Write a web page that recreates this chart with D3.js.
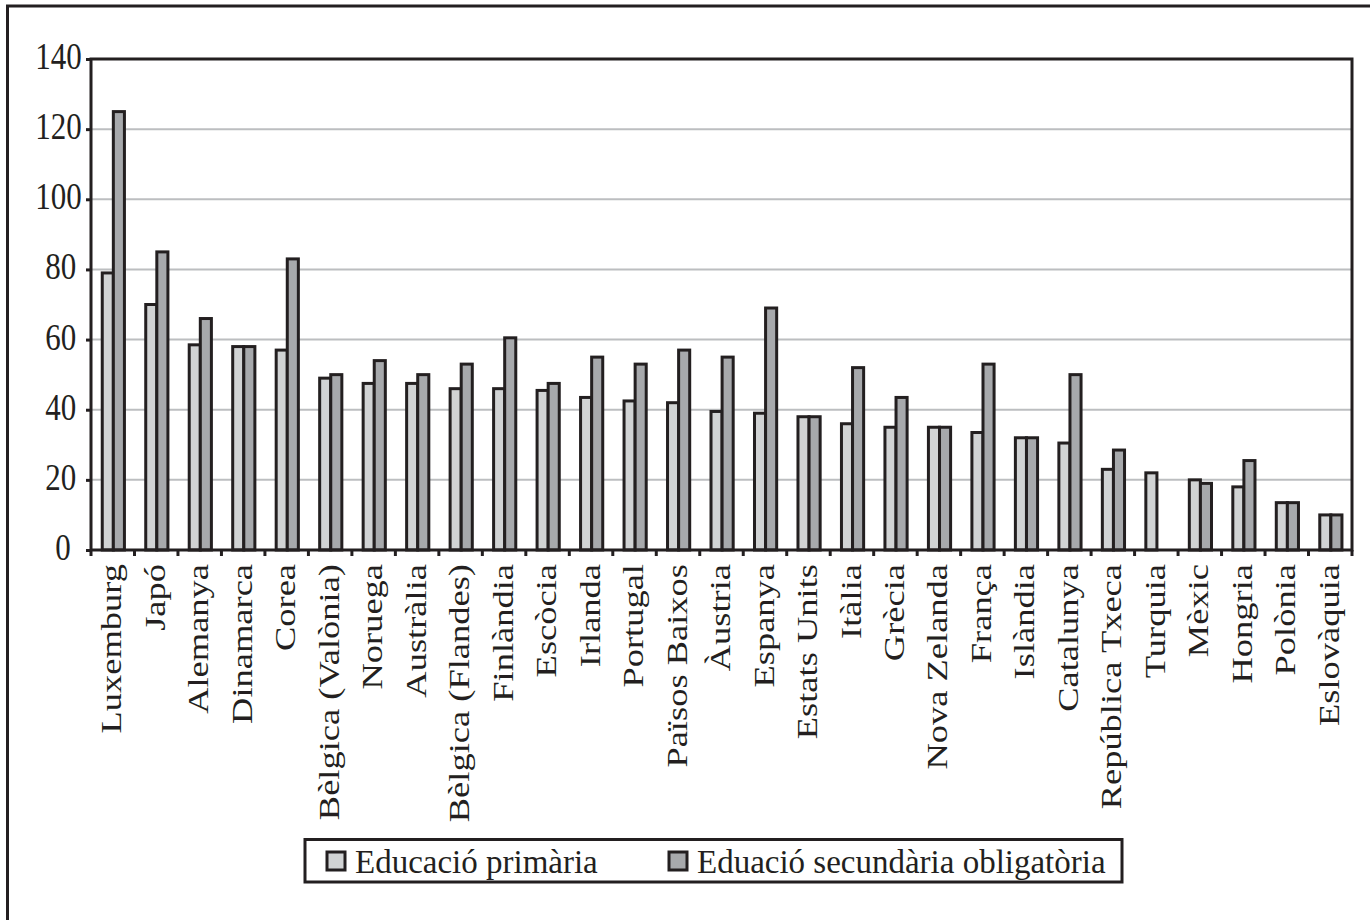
<!DOCTYPE html>
<html>
<head>
<meta charset="utf-8">
<script src="https://cdn.jsdelivr.net/npm/d3@7/dist/d3.min.js"></script>
<style>
  html, body { margin: 0; padding: 0; background: #fff; }
  svg { display: block; }
  text { font-family: "Liberation Serif", "Times New Roman", serif; fill: #231f20; }
</style>
</head>
<body>
<svg id="chart" width="1370" height="920"></svg>
<script>
const categories = ["Luxemburg", "Japó", "Alemanya", "Dinamarca", "Corea", "Bèlgica (Valònia)", "Noruega", "Austràlia", "Bèlgica (Flandes)", "Finlàndia", "Escòcia", "Irlanda", "Portugal", "Països Baixos", "Àustria", "Espanya", "Estats Units", "Itàlia", "Grècia", "Nova Zelanda", "França", "Islàndia", "Catalunya", "República Txeca", "Turquia", "Mèxic", "Hongria", "Polònia", "Eslovàquia"];
const primaria   = [79, 70, 58.5, 58, 57, 49, 47.5, 47.5, 46, 46, 45.5, 43.5, 42.5, 42, 39.5, 39, 38, 36, 35, 35, 33.5, 32, 30.5, 23, 22, 20, 18, 13.5, 10];
const secundaria = [125, 85, 66, 58, 83, 50, 54, 50, 53, 60.5, 47.5, 55, 53, 57, 55, 69, 38, 52, 43.5, 35, 53, 32, 50, 28.5, null, 19, 25.5, 13.5, 10];
const yTicks = [0, 20, 40, 60, 80, 100, 120, 140];
const seriesNames = ["Educació primària", "Eduació secundària obligatòria"];

const ink = "#231f20";
const colors = ["#d1d3d4", "#a7a9ac"];
const svg = d3.select("#chart");

const L = 91, R = 1352, T = 59, B = 550;

// outer frame (right/bottom run off the page)
svg.append("rect").attr("x", 7.5).attr("y", 6).attr("width", 1500).attr("height", 1100)
  .attr("fill", "none").attr("stroke", ink).attr("stroke-width", 3);

const y = d3.scaleLinear().domain([0, 140]).range([B, T]);
const x0 = d3.scaleBand().domain(categories).range([L, R]).padding(0);
const step = x0.step();
const groupW = step * 0.51;
const x1 = d3.scaleBand().domain([0, 1]).range([0, groupW]).padding(0);

// gridlines
svg.append("g").selectAll("line").data(yTicks.filter(v => v > 0 && v < 140)).join("line")
  .attr("x1", L).attr("x2", R).attr("y1", d => y(d)).attr("y2", d => y(d))
  .attr("stroke", "#bcbec0").attr("stroke-width", 2);

// bars
const rows = categories.map((c, i) => ({ c, vals: [primaria[i], secundaria[i]] }));
const groups = svg.append("g").selectAll("g").data(rows).join("g")
  .attr("transform", d => `translate(${x0(d.c) + (step - groupW) / 2 + 0.6},0)`);
groups.selectAll("rect").data(d => d.vals.map((v, k) => ({ v, k })).filter(e => e.v != null)).join("rect")
  .attr("x", e => x1(e.k))
  .attr("width", x1.bandwidth())
  .attr("y", e => y(e.v))
  .attr("height", e => y(0) - y(e.v))
  .attr("fill", e => colors[e.k])
  .attr("stroke", ink).attr("stroke-width", 3);

// left axis
const yAxis = svg.append("g").attr("transform", `translate(${L},0)`)
  .call(d3.axisLeft(y).tickValues(yTicks).tickSize(5).tickFormat(d3.format("d")));
yAxis.select(".domain").remove();
yAxis.selectAll(".tick line").attr("stroke", ink).attr("stroke-width", 3);
yAxis.selectAll(".tick text")
  .attr("x", null).attr("dy", null)
  .attr("text-anchor", "middle")
  .attr("dominant-baseline", "central")
  .attr("font-size", 31)
  .attr("transform", d => {
    const len = String(d).length;
    return `translate(${58.5 + (3 - len) * 2.3 - L},-3.5) scale(1,1.2)`;
  });

// bottom axis (labels)
const xAxis = svg.append("g").attr("transform", `translate(0,${B})`)
  .call(d3.axisBottom(x0).tickSize(0));
xAxis.select(".domain").remove();
xAxis.selectAll(".tick text")
  .attr("y", null).attr("dy", null)
  .attr("text-anchor", "end")
  .attr("dominant-baseline", "central")
  .attr("font-size", 28.5)
  .attr("transform", "translate(-1,14) rotate(-90) scale(1.28,1)");

// category boundary ticks
svg.append("g").selectAll("line").data(d3.range(categories.length + 1)).join("line")
  .attr("x1", i => L + i * step).attr("x2", i => L + i * step)
  .attr("y1", B).attr("y2", B + 6)
  .attr("stroke", ink).attr("stroke-width", 3);

// plot frame
svg.append("rect").attr("x", L).attr("y", T).attr("width", R - L).attr("height", B - T)
  .attr("fill", "none").attr("stroke", ink).attr("stroke-width", 3);

// legend
const lg = svg.append("g");
lg.append("rect").attr("x", 305).attr("y", 839.5).attr("width", 817).attr("height", 42.5)
  .attr("fill", "#fff").attr("stroke", ink).attr("stroke-width", 3);
const legendX = [326, 668];
const textX = [355, 697];
seriesNames.forEach((name, k) => {
  lg.append("rect").attr("x", legendX[k] + 1).attr("y", 852).attr("width", 18).attr("height", 18)
    .attr("fill", colors[k]).attr("stroke", ink).attr("stroke-width", 3);
  lg.append("text").attr("transform", `translate(${textX[k]},873) scale(1,1.05)`)
    .attr("font-size", 33).text(name);
});
</script>
</body>
</html>
